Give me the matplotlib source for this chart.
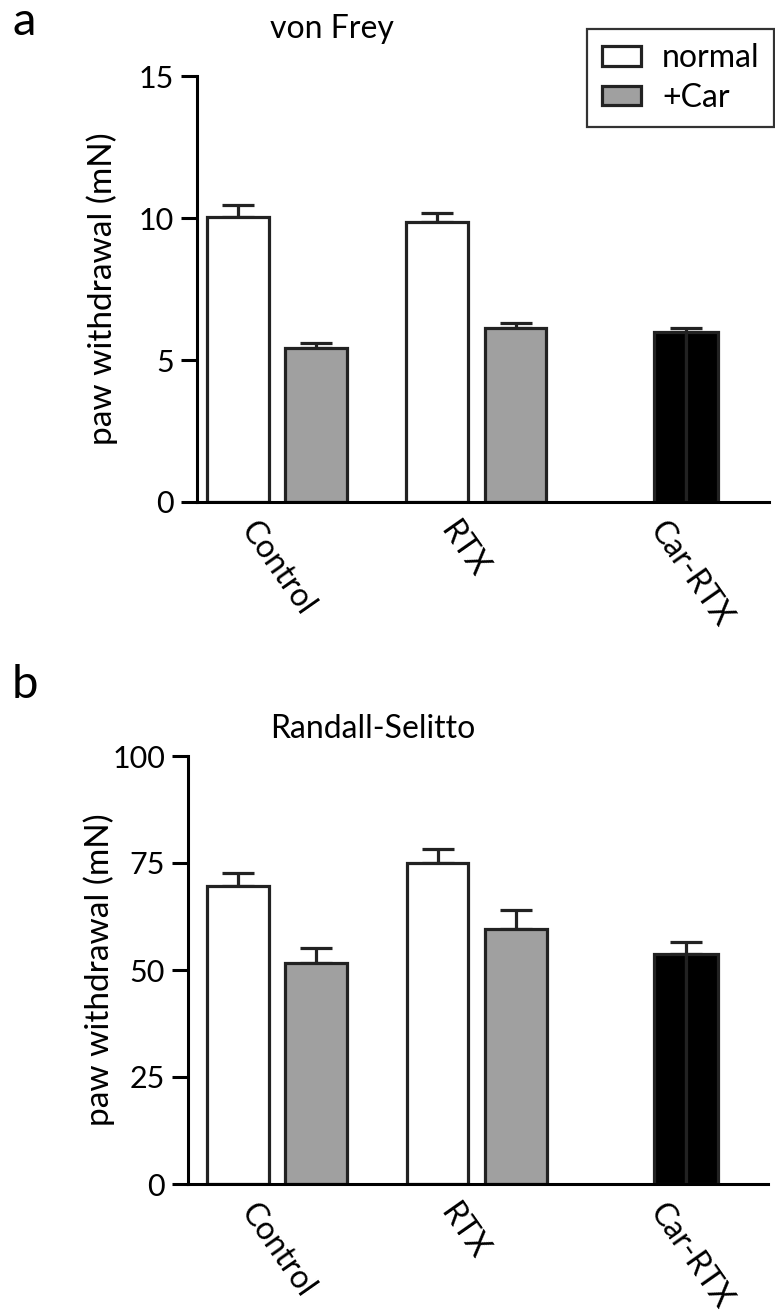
import matplotlib
matplotlib.use('Agg')
import matplotlib.pyplot as plt
from matplotlib.patches import Patch
from matplotlib.transforms import ScaledTranslation

plt.rcParams['font.family'] = ['Lato', 'DejaVu Sans']

groups = ['Control', 'RTX', 'Car-RTX']
legend_labels = ['normal', '+Car']

# von Frey, paw withdrawal (mN)
vf_normal = [10.02, 9.85]
vf_normal_err = [0.43, 0.33]
vf_car = [5.42, 6.12]
vf_car_err = [0.18, 0.20]
vf_car_rtx = 5.98
vf_car_rtx_err = 0.15

# Randall-Selitto, paw withdrawal (mN)
rs_normal = [69.6, 75.0]
rs_normal_err = [3.1, 3.3]
rs_car = [51.6, 59.6]
rs_car_err = [3.5, 4.4]
rs_car_rtx = 53.7
rs_car_rtx_err = 2.8

EDGE = '#222222'
GREY = '#a0a0a0'
LW = 2.3
centers = [0, 1, 2.05]
off = 0.196
w = 0.31


def draw_panel(ax, normal, normal_err, car, car_err, cr, cr_err, yticks, xlim, label_x):
    xn = [centers[i] - off for i in range(2)]
    xc = [centers[i] + off for i in range(2)]
    ax.bar(xn, normal, w, color='white', edgecolor=EDGE, linewidth=LW, zorder=2)
    ax.bar(xc, car, w, color=GREY, edgecolor=EDGE, linewidth=LW, zorder=2)
    # Car-RTX drawn as two black halves
    wb = 0.32
    ax.bar([centers[2] - wb / 4, centers[2] + wb / 4], [cr, cr], wb / 2,
           color='black', edgecolor=EDGE, linewidth=LW, zorder=2)
    xs = xn + xc + [centers[2]]
    ys = normal + car + [cr]
    es = normal_err + car_err + [cr_err]
    ax.errorbar(xs, ys, yerr=[[0] * len(es), es], fmt='none', ecolor=EDGE,
                elinewidth=LW, capsize=11.5, capthick=LW, zorder=1)

    ax.set_xlim(*xlim)
    ax.set_ylim(0, yticks[-1])
    ax.set_yticks(yticks)
    ax.spines['top'].set_visible(False)
    ax.spines['right'].set_visible(False)
    for s in ('left', 'bottom'):
        ax.spines[s].set_linewidth(2.2)
        ax.spines[s].set_color('black')
    ax.tick_params(axis='y', length=11.5, width=2.2, pad=5, labelsize=22)
    ax.tick_params(axis='x', length=0, pad=10, labelsize=23)
    ax.set_xticks(centers)
    ax.set_xticklabels(groups, rotation=-55, rotation_mode='anchor',
                       ha='left', va='top')
    shift = ScaledTranslation(-0.18, 0, ax.figure.dpi_scale_trans)
    for lab in ax.get_xticklabels():
        lab.set_transform(lab.get_transform() + shift)
    ax.set_ylabel('paw withdrawal (mN)', fontsize=24)
    ax.yaxis.set_label_coords(label_x, 0.5)


fig = plt.figure(figsize=(7.75, 13.12), dpi=100)
ax1 = fig.add_axes([0.2542, 1 - 502 / 1312, 0.7381, (502 - 76) / 1312])
ax2 = fig.add_axes([0.2426, 1 - 1184 / 1312, 0.7484, (1184 - 756) / 1312])

draw_panel(ax1, vf_normal, vf_normal_err, vf_car, vf_car_err,
           vf_car_rtx, vf_car_rtx_err, [0, 5, 10, 15], (-0.40, 2.466), -0.138)
draw_panel(ax2, rs_normal, rs_normal_err, rs_car, rs_car_err,
           rs_car_rtx, rs_car_rtx_err, [0, 25, 50, 75, 100], (-0.446, 2.46), -0.126)

fig.text(270 / 775, 1 - 38 / 1312, 'von Frey', fontsize=23, va='baseline')
fig.text(270 / 775, 1 - 738 / 1312, 'Randall-Selitto', fontsize=23, va='baseline')
fig.text(12 / 775, 1 - 35 / 1312, 'a', fontsize=34, va='baseline')
fig.text(12 / 775, 1 - 698 / 1312, 'b', fontsize=34, va='baseline')

handles = [Patch(facecolor='white', edgecolor=EDGE, linewidth=LW),
           Patch(facecolor=GREY, edgecolor=EDGE, linewidth=LW)]
leg = ax1.legend(handles, legend_labels, loc='upper right',
                 bbox_to_anchor=(0.999, 1 - 29 / 1312), bbox_transform=fig.transFigure,
                 borderaxespad=0, fontsize=23, frameon=True, fancybox=False,
                 handlelength=1.25, handleheight=0.55, handletextpad=0.65,
                 labelspacing=0.3, borderpad=0.45)
leg.get_frame().set_edgecolor('black')
leg.get_frame().set_linewidth(1.6)

fig.savefig('out.png', dpi=100)
